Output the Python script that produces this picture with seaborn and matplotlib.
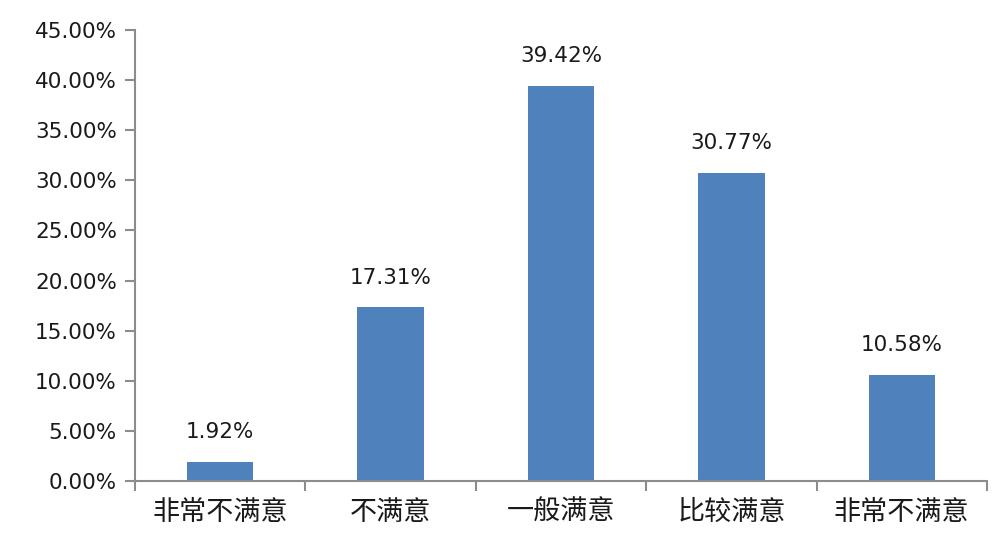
import pandas as pd
import seaborn as sns
import matplotlib.pyplot as plt
from matplotlib.ticker import FuncFormatter, FixedLocator

categories = ['非常不满意', '不满意', '一般满意', '比较满意', '非常不满意']
values = [1.92, 17.31, 39.42, 30.77, 10.58]
y_ticks = [0, 5, 10, 15, 20, 25, 30, 35, 40, 45]

df = pd.DataFrame({'idx': range(len(categories)), 'pct': values})

sns.set_style('white')
plt.rcParams['font.family'] = ['DejaVu Sans', 'Noto Sans CJK SC']

fig = plt.figure(figsize=(10.02, 5.41), dpi=100)
ax = fig.add_axes([0.1347, 0.111, 0.8503, 0.8335])

sns.barplot(data=df, x='idx', y='pct', color='#4F81BD', saturation=1,
            width=0.39, ax=ax, edgecolor='#4F81BD', linewidth=0)

ax.set_xlim(-0.5, len(categories) - 0.5)
ax.set_ylim(0, 45)
ax.set_yticks(y_ticks)
ax.yaxis.set_major_formatter(FuncFormatter(lambda v, p: f'{v:.2f}%'))

ax.set_xticks(range(len(categories)))
ax.set_xticklabels(categories, fontsize=19.5, family=['Noto Sans CJK SC', 'DejaVu Sans'],
                   color='#1a1a1a')
ax.xaxis.set_minor_locator(FixedLocator([i - 0.5 for i in range(len(categories) + 1)]))
ax.tick_params(axis='x', which='major', length=0, pad=13)
ax.tick_params(axis='x', which='minor', length=7, width=1.5, color='#8c8c8c', direction='out',
               bottom=True)
ax.tick_params(axis='y', length=7, width=1.5, color='#8c8c8c', direction='out',
               labelsize=15.5, labelcolor='#1a1a1a', pad=6, left=True)

for s in ['top', 'right']:
    ax.spines[s].set_visible(False)
for s in ['left', 'bottom']:
    ax.spines[s].set_color('#8c8c8c')
    ax.spines[s].set_linewidth(1.5)

ax.set_xlabel('')
ax.set_ylabel('')

for i, v in enumerate(values):
    ax.annotate(f'{v:.2f}%', (i, v), xytext=(0, 14), textcoords='offset points',
                ha='center', va='bottom', fontsize=15.5, color='#1a1a1a')

fig.savefig('out.png', dpi=100)
